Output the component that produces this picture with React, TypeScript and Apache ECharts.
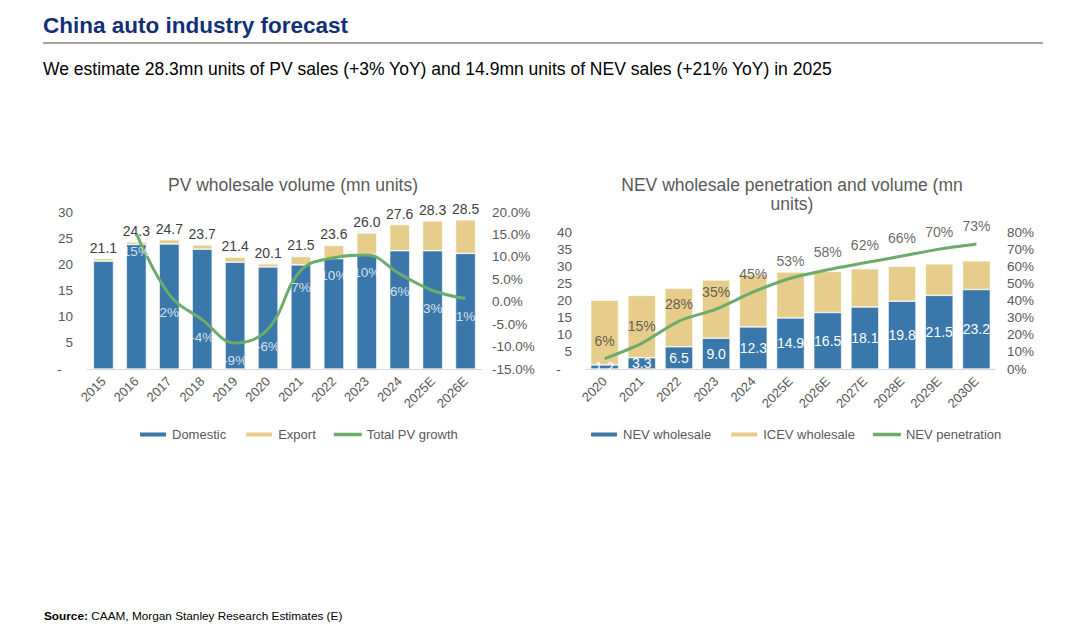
import React, { useEffect, useRef } from "react";
import * as echarts from "echarts";

const FONT = "'Liberation Sans', Arial, sans-serif";

const pvYears = ["2015", "2016", "2017", "2018", "2019", "2020", "2021", "2022", "2023", "2024", "2025E", "2026E"];
const pvDomestic = [20.6, 23.8, 23.9, 22.9, 20.4, 19.5, 19.9, 21.1, 21.9, 22.6, 22.6, 22.1];
const pvExport = [0.5, 0.5, 0.8, 0.8, 1.0, 0.6, 1.6, 2.5, 4.1, 5.0, 5.7, 6.4];
const pvTotal = [21.1, 24.3, 24.7, 23.7, 21.4, 20.1, 21.5, 23.6, 26.0, 27.6, 28.3, 28.5];
const pvGrowth = [null, 15.2, 1.6, -4.0, -9.2, -6.1, 7.0, 9.8, 10.4, 6.2, 2.5, 0.7];

const nevYears = ["2020", "2021", "2022", "2023", "2024", "2025E", "2026E", "2027E", "2028E", "2029E", "2030E"];
const nevWholesale = [1.2, 3.3, 6.5, 9.0, 12.3, 14.9, 16.5, 18.1, 19.8, 21.5, 23.2];
const icevWholesale = [18.9, 18.2, 17.1, 17.0, 15.3, 13.4, 12.0, 11.2, 10.2, 9.2, 8.4];
const nevPenetration = [6, 15, 28, 35, 45, 53, 58, 62, 66, 70, 73];

const BLUE = "#3a77aa";
const TAN = "#e6cd8b";
const GREEN = "#6cab6a";
const AXIS_TXT = "#595959";
const LABEL_TXT = "#404040";
const LINE_ICON = "path://M0,0L28,0L28,3.5L0,3.5Z";

export default function App() {
  const ref = useRef<HTMLDivElement>(null);

  useEffect(() => {
    if (!ref.current) return;
    const chart = echarts.init(ref.current, undefined, { renderer: "svg" });

    const axisLabelBase = { color: AXIS_TXT, fontSize: 13.5, fontFamily: FONT };
    const xAxisBase = {
      type: "category" as const,
      axisLine: { show: true, lineStyle: { color: "#d9d9d9", width: 1 } },
      axisTick: { show: false },
      axisLabel: { ...axisLabelBase, fontSize: 13, rotate: 45, margin: 10, interval: 0 },
    };

    const legendBase = {
      top: 428,
      itemWidth: 28,
      itemHeight: 6,
      itemGap: 18,
      padding: 0,
      textStyle: { color: AXIS_TXT, fontSize: 13, fontFamily: FONT },
    };

    const option: any = {
      animation: false,
      backgroundColor: "#ffffff",
      textStyle: { fontFamily: FONT },
      graphic: [
        {
          type: "text",
          left: 43,
          top: 14,
          style: { text: "China auto industry forecast", fill: "#132f78", font: `bold 22.5px ${FONT}` },
        },
        {
          type: "line",
          shape: { x1: 43, y1: 43, x2: 1043, y2: 43 },
          style: { stroke: "#a6a6a6", lineWidth: 2 },
        },
        {
          type: "text",
          left: 43,
          top: 60,
          style: {
            text: "We estimate 28.3mn units of PV sales (+3% YoY) and 14.9mn units of NEV sales (+21% YoY) in 2025",
            fill: "#000000",
            font: `17.5px ${FONT}`,
          },
        },
        {
          type: "text",
          x: 293,
          y: 185,
          style: {
            text: "PV wholesale volume (mn units)",
            fill: AXIS_TXT,
            font: `17.5px ${FONT}`,
            align: "center",
            verticalAlign: "middle",
          },
        },
        {
          type: "text",
          x: 792,
          y: 194,
          style: {
            text: "NEV wholesale penetration and volume (mn\nunits)",
            fill: AXIS_TXT,
            font: `17.5px ${FONT}`,
            align: "center",
            verticalAlign: "middle",
            lineHeight: 19,
          },
        },
        {
          type: "text",
          left: 44,
          top: 610,
          style: {
            rich: {
              b: { font: `bold 11.8px ${FONT}`, fill: "#000" },
              n: { font: `11.8px ${FONT}`, fill: "#000" },
            },
            text: "{b|Source:} {n|CAAM, Morgan Stanley Research Estimates (E)}",
          },
        },
      ],
      grid: [
        { left: 87, right: 598, top: 212, bottom: 267, containLabel: false },
        { left: 586, right: 85, top: 232, bottom: 267, containLabel: false },
      ],
      legend: [
        {
          ...legendBase,
          left: 138,
          data: [
            { name: "Domestic" },
            { name: "Export" },
            { name: "Total PV growth", icon: LINE_ICON, itemStyle: { color: GREEN } },
          ],
        },
        {
          ...legendBase,
          left: 589,
          data: [
            { name: "NEV wholesale" },
            { name: "ICEV wholesale" },
            { name: "NEV penetration", icon: LINE_ICON, itemStyle: { color: GREEN } },
          ],
        },
      ],
      xAxis: [
        { ...xAxisBase, gridIndex: 0, data: pvYears },
        { ...xAxisBase, gridIndex: 1, data: nevYears },
      ],
      yAxis: [
        {
          type: "value",
          gridIndex: 0,
          min: 0,
          max: 30,
          interval: 5,
          splitLine: { show: false },
          axisLine: { show: false },
          axisTick: { show: false },
          axisLabel: { ...axisLabelBase, margin: 14, formatter: (v: number) => (v === 0 ? "-   " : String(v)) },
        },
        {
          type: "value",
          gridIndex: 0,
          position: "right",
          min: -15,
          max: 20,
          interval: 5,
          splitLine: { show: false },
          axisLine: { show: false },
          axisTick: { show: false },
          axisLabel: { ...axisLabelBase, margin: 10, formatter: (v: number) => `${v.toFixed(1)}%` },
        },
        {
          type: "value",
          gridIndex: 1,
          min: 0,
          max: 40,
          interval: 5,
          splitLine: { show: false },
          axisLine: { show: false },
          axisTick: { show: false },
          axisLabel: { ...axisLabelBase, margin: 14, formatter: (v: number) => (v === 0 ? "-   " : String(v)) },
        },
        {
          type: "value",
          gridIndex: 1,
          position: "right",
          min: 0,
          max: 80,
          interval: 10,
          splitLine: { show: false },
          axisLine: { show: false },
          axisTick: { show: false },
          axisLabel: { ...axisLabelBase, margin: 12, formatter: (v: number) => `${v}%` },
        },
      ],
      series: [
        {
          name: "Domestic",
          type: "bar",
          xAxisIndex: 0,
          yAxisIndex: 0,
          stack: "pv",
          barCategoryGap: "39%",
          data: pvDomestic,
          itemStyle: { color: BLUE, borderColor: "#ffffff", borderWidth: 0.6 },
        },
        {
          name: "Export",
          type: "bar",
          xAxisIndex: 0,
          yAxisIndex: 0,
          stack: "pv",
          barCategoryGap: "39%",
          data: pvExport,
          itemStyle: { color: TAN, borderColor: "#ffffff", borderWidth: 0.6 },
          label: {
            show: true,
            position: "top",
            distance: 4,
            color: LABEL_TXT,
            fontSize: 14,
            fontFamily: FONT,
            formatter: (p: any) => pvTotal[p.dataIndex].toFixed(1),
          },
        },
        {
          name: "Total PV growth",
          type: "line",
          xAxisIndex: 0,
          yAxisIndex: 1,
          data: pvGrowth,
          smooth: 0.4,
          symbol: "none",
          connectNulls: false,
          lineStyle: { color: GREEN, width: 3 },
          itemStyle: { color: GREEN },
          z: 5,
        },
        {
          name: "pvGrowthLabels",
          type: "scatter",
          xAxisIndex: 0,
          yAxisIndex: 1,
          data: pvGrowth,
          symbolSize: 1,
          itemStyle: { color: "rgba(0,0,0,0)" },
          silent: true,
          label: {
            show: true,
            position: "bottom",
            distance: 10,
            color: "#ffffff",
            fontSize: 13.5,
            fontFamily: FONT,
            formatter: (p: any) => `${Math.round(Array.isArray(p.value) ? p.value[1] : p.value)}%`,
          },
          z: 6,
        },
        {
          name: "NEV wholesale",
          type: "bar",
          xAxisIndex: 1,
          yAxisIndex: 2,
          stack: "nev",
          barCategoryGap: "25%",
          data: nevWholesale,
          itemStyle: { color: BLUE, borderColor: "#ffffff", borderWidth: 0.6 },
          label: {
            show: true,
            position: "inside",
            color: "#ffffff",
            fontSize: 14,
            fontFamily: FONT,
            formatter: (p: any) => Number(p.value).toFixed(1),
          },
        },
        {
          name: "ICEV wholesale",
          type: "bar",
          xAxisIndex: 1,
          yAxisIndex: 2,
          stack: "nev",
          barCategoryGap: "25%",
          data: icevWholesale,
          itemStyle: { color: TAN, borderColor: "#ffffff", borderWidth: 0.6 },
        },
        {
          name: "NEV penetration",
          type: "line",
          xAxisIndex: 1,
          yAxisIndex: 3,
          data: nevPenetration,
          smooth: 0.25,
          symbol: "none",
          lineStyle: { color: GREEN, width: 3 },
          itemStyle: { color: GREEN },
          z: 5,
        },
        {
          name: "nevPenLabels",
          type: "scatter",
          xAxisIndex: 1,
          yAxisIndex: 3,
          data: nevPenetration,
          symbolSize: 1,
          itemStyle: { color: "rgba(0,0,0,0)" },
          silent: true,
          label: {
            show: true,
            position: "top",
            distance: 10,
            color: LABEL_TXT,
            fontSize: 14,
            fontFamily: FONT,
            formatter: (p: any) => `${Array.isArray(p.value) ? p.value[1] : p.value}%`,
          },
          z: 6,
        },
      ],
    };

    chart.setOption(option);
    return () => chart.dispose();
  }, []);

  return (
    <div
      ref={ref}
      style={{ position: "fixed", left: 0, top: 0, width: 1080, height: 636, background: "#ffffff" }}
    />
  );
}
